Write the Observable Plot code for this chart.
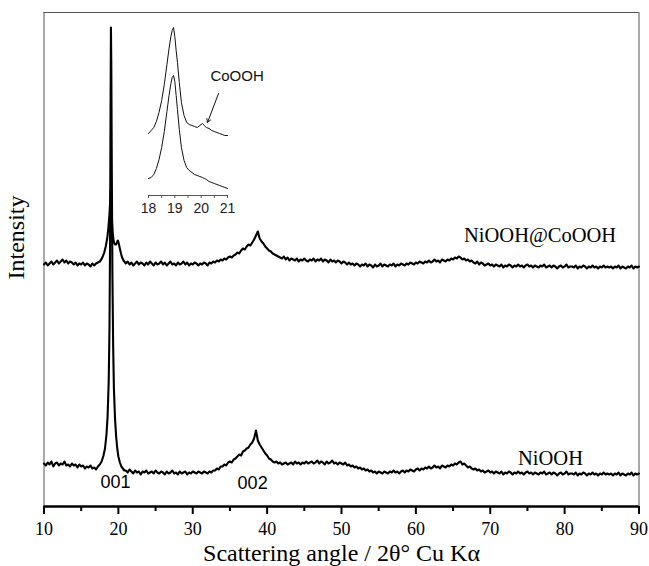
<!DOCTYPE html>
<html><head><meta charset="utf-8">
<script src="https://cdn.jsdelivr.net/npm/d3@7"></script>
<script src="https://cdn.jsdelivr.net/npm/@observablehq/plot@0.6"></script>
<style>
body{margin:0;background:#fff;}
#wrap{position:relative;width:649px;height:566px;}
#wrap svg{position:absolute;left:0;top:0;}
</style></head><body><div id="wrap"></div>
<script>
// ---------- main pattern data (intensity in arbitrary units) ----------
const gridStep = 0.25;
// NiOOH
const niA_start = 10.0;
const niA = [43,41,44,42,45,40,43,44,41,43,42,45,41,42,40,43,41,42,39,42,40,41,38,40,39,41,38,39,37];
const niPeakAngle = [17.25,17.5,17.75,18.0,18.2,18.4,18.55,18.7,18.8,18.88,18.95,19.0,19.05,19.12,19.2,19.3,19.4,19.55,19.7,19.85,20.0,20.2,20.4,20.6,20.8];
const niPeakValue = [40,42,45,51,58,72,90,125,175,260,400,479,440,330,230,160,118,88,70,58,50,44,40,38,36];
const niB_start = 21.0;
const niB = [
36,34,37,35,33,36,34,35,32,35,34,36,33,34,35,33,36,34,33,35,
34,32,35,33,34,36,33,34,32,35,33,34,35,32,34,33,35,34,33,35,
34,33,35,34,33,35,34,36,36,38,37,40,40,42,41,44,45,44,47,48,
50,52,51,55,56,58,59,62,64,68,76,66,62,59,56,53,51,48,47,45,
44,45,43,44,42,43,44,42,43,44,42,45,43,44,42,44,43,45,43,44,
45,43,44,46,43,45,44,42,45,43,44,46,43,44,42,44,43,42,44,41,
42,40,41,39,40,38,39,37,38,36,37,35,36,34,35,33,35,34,33,35,
34,33,35,34,36,34,35,33,35,36,34,36,35,37,36,35,37,38,36,38,
37,39,38,40,38,39,41,39,40,38,41,40,39,41,40,42,41,43,42,44,
45,42,43,41,39,40,38,37,38,36,37,35,36,34,35,36,34,35,33,35,
34,33,35,32,34,33,35,34,32,34,33,35,33,34,32,34,35,33,34,32,
34,33,32,34,33,35,32,33,34,32,34,33,31,33,34,32,33,35,32,33,
33,32,34,31,33,32,34,33,31,33,32,34,32,33,31,33,32,34,32,33,
32,33,31,33,32,34,31,33,32,31,33,32,34,31,33,32,33];
// NiOOH@CoOOH
const coA_start = 10.0;
const coA = [242,244,241,243,245,242,244,246,243,245,247,244,246,243,245,244,242,244,241,243,242,244,241,243,242,240,243,241,243,244];
const coPeakAngle = [17.5,17.7,17.9,18.1,18.3,18.5,18.65,18.8,18.9,18.97,19.05,19.15,19.25,19.4,19.55,19.7,19.85,19.95,20.05,20.2,20.35,20.5,20.7,20.9];
const coPeakValue = [245,247,250,254,260,268,278,292,305,316,302,284,272,264,262,262,265,266,263,258,253,249,246,244];
const coB_start = 21.0;
const coB = [
243,245,242,244,241,243,245,242,244,243,241,244,242,245,243,241,244,242,243,245,
242,244,241,243,245,242,243,241,244,242,243,245,242,244,241,243,242,244,243,241,
243,242,244,243,241,244,243,245,244,246,245,247,246,248,247,249,250,249,251,252,
254,253,256,258,257,260,262,261,264,267,271,275,268,265,263,260,258,256,255,253,
252,251,250,249,248,250,247,249,246,248,247,246,248,245,247,246,248,246,245,247,
246,248,245,247,246,248,245,247,246,244,247,245,246,244,246,245,243,245,244,242,
244,242,243,241,243,242,240,242,241,243,240,242,241,239,242,240,241,243,240,242,
241,240,242,241,243,240,242,241,243,242,241,243,242,244,243,242,244,243,245,244,
243,245,244,246,244,245,247,245,246,244,247,246,245,247,246,248,247,249,248,250,
249,247,248,246,247,245,246,244,243,245,242,244,243,241,242,243,241,242,240,242,
241,240,242,239,241,240,242,241,239,241,240,242,240,241,239,241,242,240,241,239,
241,240,239,241,240,242,239,240,241,239,241,240,238,240,241,239,240,242,239,240,
240,239,241,238,240,239,241,240,238,240,239,241,239,240,238,240,239,241,239,240,
239,240,238,240,239,241,238,240,239,238,240,239,241,238,240,239,240];

// ---------- inset data ----------
const insetAngle = [18.0,18.1,18.2,18.3,18.4,18.5,18.6,18.7,18.78,18.85,18.9,18.95,19.0,19.05,19.1,19.17,19.25,19.35,19.45,19.55,19.65,19.75,19.85,19.95,20.05,20.12,20.2,20.3,20.4,20.5,20.6,20.7,20.8,20.9,21.0];
const insetUpper = [62,65,68,74,83,95,111,131,147,159,165,168,159,145,133,113,93,80,73,71,70,69,68,70,72,70,68,67,65,64,63,62,61,60,60];
const insetLower = [17,18,21,27,36,48,64,84,100,112,118,120,114,100,86,66,48,35,28,25,23,21,20,19,18,17,16,14,13,12,11,10,9,8,7];

// ---------- ticks & labels ----------
const majorTicks = [10,20,30,40,50,60,70,80,90];
const minorTicks = [15,25,35,45,55,65,75,85];
const insetTicks = [18,18.5,19,19.5,20,20.5,21];
const xTitle = "Scattering angle / 2θ° Cu Kα";
const yTitle = "Intensity";
const seriesNames = ["NiOOH@CoOOH","NiOOH"];
const seriesLabelAngle = [76.7, 78.1];
const seriesLabelValue = [271, 48];
const peakNames = ["001","002"];
const peakLabelAngle = [19.6, 38.05];
const peakLabelValue = [24, 23];
const insetNote = "CoOOH";
const insetNoteAngle = 20.35, insetNoteValue = 119;
const arrowFrom = [20.66, 102], arrowTo = [20.24, 73];

// ---------- build ----------
function grid(start, vals){ return vals.map((v,i)=>({angle: start + i*gridStep, v})); }
function pairs(a, b){ return a.map((x,i)=>({angle:x, v:b[i]})); }
const niData = [...grid(niA_start, niA), ...pairs(niPeakAngle, niPeakValue), ...grid(niB_start, niB)];
const coData = [...grid(coA_start, coA), ...pairs(coPeakAngle, coPeakValue), ...grid(coB_start, coB)];
const insU = pairs(insetAngle, insetUpper);
const insL = pairs(insetAngle, insetLower);

const W = 649, H = 566;
const serif = "'Liberation Serif','Times New Roman',serif";
const sans = "'Liberation Sans',Arial,sans-serif";

const main = Plot.plot({
  width: W, height: H,
  marginLeft: 43.5, marginRight: 10.5, marginTop: 12, marginBottom: 60,
  x: {domain: [10, 90]},
  y: {domain: [0, 494], axis: null},
  style: {background: "transparent", fontFamily: serif, overflow: "visible", color: "#000"},
  marks: [
    Plot.ruleX([10, 90], {stroke: "#555", strokeWidth: 1}),
    Plot.ruleY([494], {stroke: "#555", strokeWidth: 1}),
    Plot.line(coData, {x: "angle", y: "v", stroke: "#000", strokeWidth: 2.1}),
    Plot.line(niData, {x: "angle", y: "v", stroke: "#000", strokeWidth: 2.1}),
    Plot.ruleY([0], {stroke: "#000", strokeWidth: 2.5}),
    Plot.axisX({ticks: majorTicks, tickSize: 8, tickPadding: 8, strokeWidth: 2, fontSize: 18, label: null, tickFormat: d => String(d)}),
    Plot.axisX({ticks: minorTicks, tickSize: 5, strokeWidth: 2, label: null, tickFormat: () => ""}),
    Plot.text(seriesNames, {x: (d,i) => seriesLabelAngle[i], y: (d,i) => seriesLabelValue[i], text: d => d, fontSize: 20.5, fontFamily: serif, fill: "#000"}),
    Plot.text(peakNames, {x: (d,i) => peakLabelAngle[i], y: (d,i) => peakLabelValue[i], text: d => d, fontSize: 18, fontFamily: sans, fill: "#000"}),
    Plot.text([xTitle], {x: 50, y: -47, text: d => d, fontSize: 24, fontFamily: serif, fill: "#000"}),
    Plot.text([yTitle], {x: 6.3, y: 269, text: d => d, fontSize: 24, fontFamily: serif, rotate: -90, fill: "#000"})
  ]
});

const inset = Plot.plot({
  width: W, height: H,
  marginLeft: 148, marginRight: W - 227, marginTop: 20, marginBottom: H - 195,
  x: {domain: [18, 21]},
  y: {domain: [0, 175], axis: null},
  style: {background: "transparent", fontFamily: sans, overflow: "visible", color: "#222"},
  marks: [
    Plot.ruleY([0], {stroke: "#555", strokeWidth: 1}),
    Plot.axisX({ticks: insetTicks, tickSize: 3, tickPadding: 5, fontSize: 14, label: null, stroke: "#555",
      tickFormat: d => Number.isInteger(d) ? String(d) : ""}),
    Plot.line(insU, {x: "angle", y: "v", stroke: "#111", strokeWidth: 1}),
    Plot.line(insL, {x: "angle", y: "v", stroke: "#111", strokeWidth: 1}),
    Plot.text([insetNote], {x: insetNoteAngle, y: insetNoteValue, text: d => d, textAnchor: "start", fontSize: 15, fontFamily: sans, fill: "#111"}),
    Plot.arrow([{x1: arrowFrom[0], y1: arrowFrom[1], x2: arrowTo[0], y2: arrowTo[1]}], {x1: "x1", y1: "y1", x2: "x2", y2: "y2", stroke: "#111", strokeWidth: 1, headLength: 6})
  ]
});

const wrap = document.getElementById("wrap");
wrap.appendChild(main);
wrap.appendChild(inset);
</script></body></html>
